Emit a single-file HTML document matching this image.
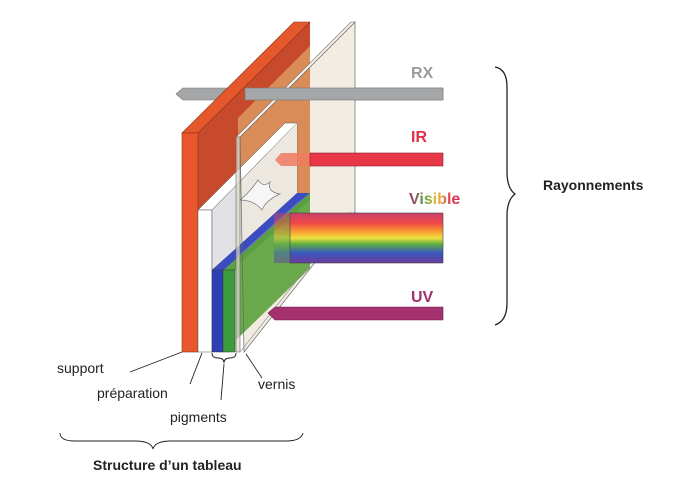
<!DOCTYPE html>
<html><head><meta charset="utf-8"><style>
html,body{margin:0;padding:0;background:#fff;}
svg{display:block;font-family:"Liberation Sans",sans-serif;}
</style></head><body>
<svg width="688" height="479" viewBox="0 0 688 479" xmlns="http://www.w3.org/2000/svg">
<defs>
<linearGradient id="rb" x1="0" y1="0" x2="0" y2="1">
<stop offset="0" stop-color="#c8406a"/><stop offset="0.2" stop-color="#f04848"/>
<stop offset="0.38" stop-color="#f8a030"/><stop offset="0.5" stop-color="#f0e040"/>
<stop offset="0.62" stop-color="#60b040"/><stop offset="0.8" stop-color="#3858c0"/>
<stop offset="1" stop-color="#6a3c9a"/></linearGradient>
<linearGradient id="vis" x1="0" y1="0" x2="1" y2="0">
<stop offset="0" stop-color="#a03078"/><stop offset="0.3" stop-color="#60a040"/>
<stop offset="0.55" stop-color="#e8c040"/><stop offset="0.8" stop-color="#e04050"/><stop offset="1" stop-color="#d03060"/></linearGradient>
</defs>
<!-- RX beam back part -->
<polygon points="176,94 183,88 443,88 443,100 183,100" fill="#a4a6a8" stroke="#777" stroke-width="0.6"/>
<!-- varnish back area (beige) -->
<polygon points="240,137 355,22 355,212 244,352" fill="#f2ece2"/>
<!-- support -->
<polygon points="198,133 310,22 310,197 198,210" fill="#c84a2c"/>
<!-- orange tint where support seen through varnish -->
<polygon points="238,118 310,46 310,197 238,205" fill="#da8c58"/>
<polygon points="182,133 198,133 310,22 294,22" fill="#e4582c" stroke="#8a3018" stroke-width="0.6"/>
<rect x="182" y="133" width="16" height="219" fill="#e8582c" stroke="#8a3018" stroke-width="0.6"/>
<!-- preparation -->
<polygon points="198,210 212,210 297,123 285,123" fill="#fff" stroke="#555" stroke-width="0.5"/>
<rect x="198" y="210" width="14" height="142" fill="#fff" stroke="#555" stroke-width="0.5"/>
<polygon points="212,210 297,123 297,195 212,270" fill="#e2e2e6" stroke="#555" stroke-width="0.5"/>
<polygon points="238,184 297,123 297,195 238,248" fill="#ece8e0"/>
<path d="M240,200 q10,-8 18,-20 q5,8 12,2 q-3,10 10,12 q-14,6 -18,16 q-8,-10 -22,-10z" fill="#f6f6f6" stroke="#777" stroke-width="0.7"/>
<!-- pigments -->
<polygon points="212,270 297,193 310,193 224,270" fill="#3a4cc0"/>
<polygon points="238,256 297,203 310,193 310,200 238,263" fill="#6a78c8"/>
<polygon points="224,270 310,193 310,268 236,340 236,270" fill="#5aa040"/>
<polygon points="238,265 310,200 310,268 238,338" fill="#6aaa4c"/>
<rect x="212" y="270" width="11" height="82" fill="#2e40b8" stroke="#333" stroke-width="0.5"/>
<rect x="223" y="270" width="12" height="82" fill="#3c9c3c" stroke="#333" stroke-width="0.5"/>
<!-- varnish edges -->
<polygon points="240,137 355,22 355,212 244,352" fill="none" stroke="#666" stroke-width="0.7"/>
<polygon points="236,137 351,22 355,22 240,137" fill="#f6f0e8" stroke="#666" stroke-width="0.6"/>
<rect x="236" y="137" width="4" height="215" fill="#dcd8c8" fill-opacity="0.7" stroke="#666" stroke-width="0.6"/>
<line x1="240" y1="352" x2="351" y2="212" stroke="#888" stroke-width="0.6"/>
<!-- RX front segment -->
<rect x="245" y="88" width="198" height="12" fill="#a4a6a8" stroke="#777" stroke-width="0.6"/>
<!-- IR -->
<polygon points="275,160 281,153 310,153 310,166 281,166" fill="#f07a60" fill-opacity="0.85"/>
<rect x="310" y="153" width="133" height="13" fill="#e83848" stroke="#8a2030" stroke-width="0.6"/>
<!-- Visible -->
<rect x="274" y="213" width="18" height="50" fill="url(#rb)" fill-opacity="0.5"/>
<rect x="290" y="213" width="153" height="50" fill="url(#rb)" stroke="#444" stroke-width="0.6"/>
<!-- UV -->
<polygon points="268,313 275,307 443,307 443,320 275,320" fill="#a4306e" stroke="#6a2048" stroke-width="0.6"/>
<!-- labels -->
<text x="411" y="78" font-size="16" font-weight="bold" fill="#9a9a9a">RX</text>
<text x="411" y="142" font-size="16" font-weight="bold" fill="#e03048">IR</text>
<text x="409" y="204" font-size="16" font-weight="bold" fill="url(#vis)">Visible</text>
<text x="411" y="302" font-size="16" font-weight="bold" fill="#a03070">UV</text>
<path d="M495,67 q12,2 12,20 v85 q0,16 8,22 q-8,6 -8,22 v87 q0,18 -12,22" fill="none" stroke="#222" stroke-width="1.3"/>
<text x="543" y="190" font-size="14" font-weight="bold" fill="#222">Rayonnements</text>
<!-- bottom labels -->
<g stroke="#222" stroke-width="0.9" fill="none">
<line x1="130" y1="372" x2="182" y2="352"/>
<line x1="190" y1="384" x2="202" y2="353"/>
<line x1="221" y1="400" x2="224" y2="364"/>
<line x1="262" y1="378" x2="246" y2="354"/>
<path d="M212,353 q0,5 6,5 q6,0 6,5 q0,-5 6,-5 q6,0 6,-5"/>
<path d="M60,433 q0,8 15,8 h60 q16,0 18,8 q2,-8 18,-8 h115 q15,0 17,-8"/>
</g>
<g fill="#222" font-size="14">
<text x="57" y="373">support</text>
<text x="97" y="398">préparation</text>
<text x="170" y="422">pigments</text>
<text x="258" y="389">vernis</text>
<text x="93" y="470" font-weight="bold">Structure d’un tableau</text>
</g>
</svg>
</body></html>
